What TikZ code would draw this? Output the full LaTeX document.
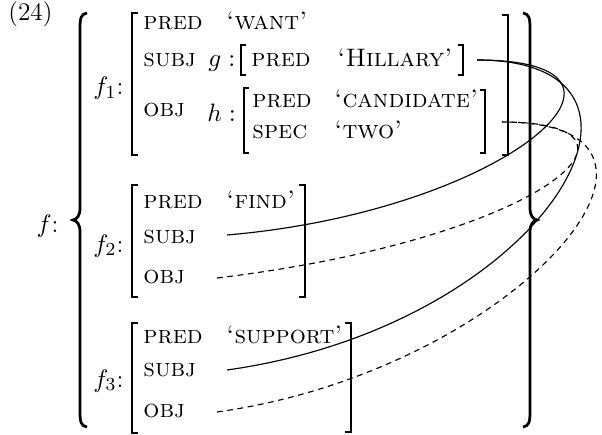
\documentclass[tikz,border=0pt]{standalone}
\begin{document}
\begin{tikzpicture}[x=0.4348pt,y=-0.4348pt,
            txt/.style={anchor=base west,inner sep=0pt,font=\fontsize{11}{13.6}\selectfont},
            lbl/.style={anchor=base east,inner sep=0pt,font=\fontsize{11}{13.6}\selectfont},
            brk/.style={line width=0.8pt},
            brc/.style={line width=1.2pt},
            link/.style={line width=0.5pt},
            dlink/.style={line width=0.5pt,dash pattern=on 2.5pt off 2pt}]
            \useasboundingbox (0,0) rectangle (602,435);
            \node(num)[txt] at (8,21){(24)};
            \node(f)[lbl] at (59,232){$f$:};
            \node(f1)[lbl] at (124,95){$f_1$:};
            \node(f2)[lbl] at (124,252){$f_2$:};
            \node(f3)[lbl] at (124,387){$f_3$:};
            % f1
            \node(pred1)[txt] at (143,30){\textsc{pred}};
            \node(want)[txt] at (226,30){\textsc{`want'}};
            \node(subj1)[txt] at (143,67){\textsc{subj}};
            \node(g)[txt] at (208,67){$g:$};
            \node(predg)[txt] at (251,67){\textsc{pred}};
            \node(hill)[txt] at (337,67){\textsc{`Hillary'}};
            \node(obj1)[txt] at (143,117){\textsc{obj}};
            \node(h)[txt] at (207,122){$h:$};
            \node(predh)[txt] at (252,108){\textsc{pred}};
            \node(cand)[txt] at (334,108){\textsc{`candidate'}};
            \node(spec)[txt] at (252,139){\textsc{spec}};
            \node(two)[txt] at (334,139){\textsc{`two'}};
            % f2
            \node(pred2)[txt] at (143,208){\textsc{pred}};
            \node(find)[txt] at (226,208){\textsc{`find'}};
            \node(subj2)[txt] at (143,243){\textsc{subj}};
            \node(obj2)[txt] at (143,283){\textsc{obj}};
            % f3
            \node(pred3)[txt] at (143,343){\textsc{pred}};
            \node(supp)[txt] at (226,343){\textsc{`support'}};
            \node(subj3)[txt] at (143,376){\textsc{subj}};
            \node(obj3)[txt] at (143,417){\textsc{obj}};
            % brackets
            \draw[brk] (138,13) -| (132,155) -- (138,155);
            \draw[brk] (502,15) -| (508,155) -- (502,155);
            \draw[brk] (246,45) -| (241,75) -- (246,75);
            \draw[brk] (458,45) -| (463,75) -- (458,75);
            \draw[brk] (249,88) -| (244,153) -- (249,153);
            \draw[brk] (480,90) -| (485,153) -- (480,153);
            \draw[brk] (138,185) -| (132,297) -- (138,297);
            \draw[brk] (299,185) -| (305,297) -- (299,297);
            \draw[brk] (138,323) -| (132,433) -- (138,433);
            \draw[brk] (345,323) -| (351,432) -- (345,432);
            % braces
            \draw[brc] (87,13) .. controls (81,14) and (80,18) .. (80,28) -- (80,208)
                .. controls (80,216) and (77,219) .. (73,220) .. controls (77,221) and (80,224) .. (80,232)
                -- (80,412) .. controls (80,422) and (81,426) .. (87,427);
            \draw[brc] (523,13) .. controls (529,14) and (530,18) .. (530,28) -- (530,208)
                .. controls (530,216) and (533,219) .. (537,220) .. controls (533,221) and (530,224) .. (530,232)
                -- (530,412) .. controls (530,422) and (529,426) .. (523,427);
            % links
            \coordinate(gend) at (477,60);
            \coordinate(hend) at (502,122);
            \coordinate(s2) at (227,235);
            \coordinate(o2) at (217,278);
            \coordinate(s3) at (227,370);
            \coordinate(o3) at (217,412);
            \draw[link] (s2) .. controls +(280,-24) and +(200,0) .. (gend);
            \draw[link] (s3) .. controls +(320,-45) and +(220,0) .. (gend);
            \draw[dlink] (o2) .. controls +(330,-40) and +(170,0) .. (hend);
            \draw[dlink] (o3) .. controls +(300,-42) and +(225,0) .. (hend);
        \end{tikzpicture}
\end{document}
